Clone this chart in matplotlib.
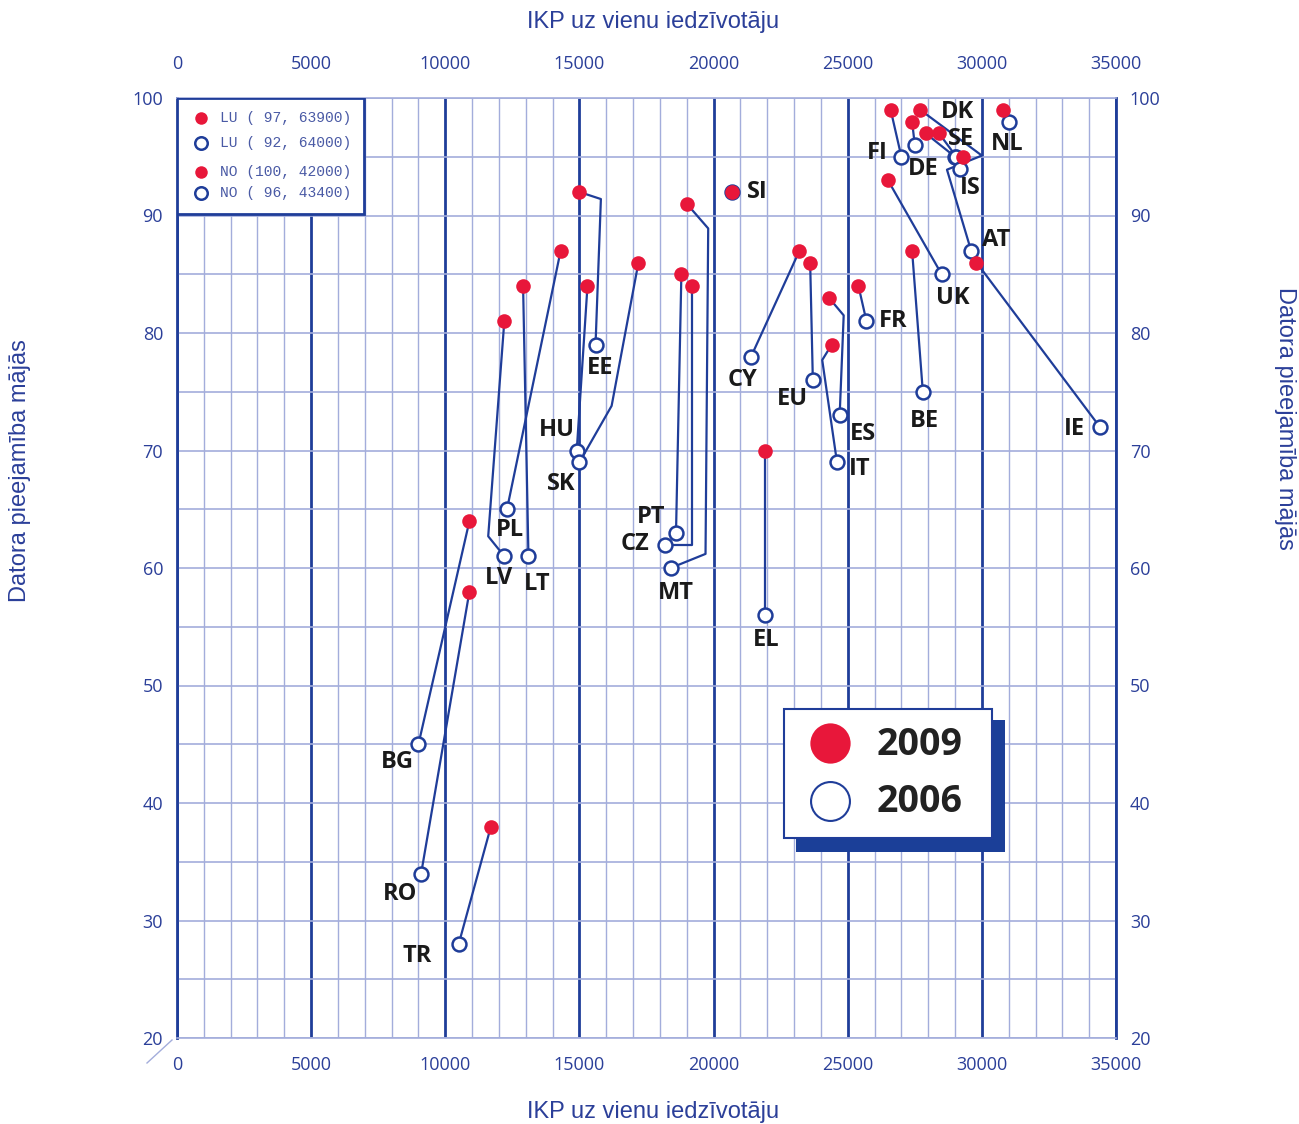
import matplotlib
matplotlib.use("Agg")
import matplotlib.pyplot as plt
from matplotlib.patches import Rectangle
from matplotlib.lines import Line2D


# country codes and values (GDP per capita, % homes with a computer)
codes = ["NL", "FI", "DE", "DK", "SE", "IS", "AT", "UK", "IE", "BE", "FR",
         "SI", "CY", "EU", "ES", "IT", "EL", "MT", "PT", "CZ", "EE", "HU",
         "SK", "PL", "LT", "LV", "BG", "RO", "TR"]
gdp_2009 = [30800, 26600, 27400, 27900, 28400, 29300, 27700, 26500, 29800, 27400, 25400,
            20700, 23200, 23600, 24300, 24400, 21900, 19000, 18800, 19200, 15000, 15300,
            17200, 14300, 12900, 12200, 10900, 10900, 11700]
pc_2009 = [99, 99, 98, 97, 97, 95, 99, 93, 86, 87, 84,
           92, 87, 86, 83, 79, 70, 91, 85, 84, 92, 84,
           86, 87, 84, 81, 64, 58, 38]
gdp_2006 = [31000, 27000, 27500, 29000, 29050, 29200, 29600, 28500, 34400, 27800, 25700,
            20700, 21400, 23700, 24700, 24600, 21900, 18400, 18600, 18200, 15600, 14900,
            15000, 12300, 13100, 12200, 9000, 9100, 10500]
pc_2006 = [98, 95, 96, 95, 95, 94, 87, 85, 72, 75, 81,
           92, 78, 76, 73, 69, 56, 60, 63, 62, 79, 70,
           69, 65, 61, 61, 45, 34, 28]

# elbows of the connector lines (data units)
bends = {
    "AT": [(30000, 95.1), (28700, 93.9)],
    "MT": [(19800, 88.9), (19700, 61.2)],
    "CZ": [(19200, 62)],
    "SK": [(16200, 73.8)],
    "EE": [(15800, 91.4)],
    "LV": [(11600, 62.7)],
    "ES": [(24850, 81.5)],
    "IT": [(24050, 77.7)],
}

# off-chart values listed in the top-left box
inset_codes = ["LU", "LU", "NO", "NO"]
inset_pc = [97, 92, 100, 96]
inset_gdp = [63900, 64000, 42000, 43400]
inset_filled = [True, False, True, False]

# label offsets from the 2006 marker, points
label_offsets = {
    "NL": (-1, -16), "FI": (-17, 3), "DE": (6, -17), "DK": (2, 32),
    "SE": (3, 13), "IS": (7, -14), "AT": (18, 8), "UK": (8, -17),
    "FR": (19, 0), "BE": (1, -21), "IE": (-18, -1.5), "SI": (18, 0),
    "CY": (-6.5, -17), "EU": (-15, -14), "ES": (16.5, -13.5), "IT": (16.5, -5),
    "EL": (1.5, -18), "PT": (-18, 11), "CZ": (-22, 0), "MT": (3.5, -18),
    "EE": (3, -17), "HU": (-14, 15), "SK": (-13, -16), "PL": (2, -15),
    "LV": (-4, -16), "LT": (6, -20), "BG": (-15, -13), "RO": (-15, -15),
    "TR": (-30, -9),
}

BLUE = "#1f3d99"
LIGHT = "#a3addb"
RED = "#e8173a"
TXT_BLUE = "#2b3f99"

W, H = 1299, 1124
fig = plt.figure(figsize=(W / 100, H / 100), dpi=100)
ax = fig.add_axes([177 / W, 1 - 1038 / H, (1116 - 177) / W, (1038 - 98) / H])

ax.set_xlim(0, 35000)
ax.set_ylim(20, 100)
ax.set_xticks(range(0, 35001, 5000))
ax.set_xticks(range(0, 35001, 1000), minor=True)
ax.set_yticks(range(20, 101, 10))
ax.set_yticks(range(20, 101, 5), minor=True)
ax.set_axisbelow(True)
ax.grid(axis="x", which="major", color=BLUE, lw=2)
ax.grid(axis="x", which="minor", color=LIGHT, lw=1)
ax.grid(axis="y", which="both", color=LIGHT, lw=1.2)

for side in ["left", "right"]:
    ax.spines[side].set_color(BLUE)
    ax.spines[side].set_linewidth(2)
for side in ["top", "bottom"]:
    ax.spines[side].set_color(LIGHT)
    ax.spines[side].set_linewidth(1.2)

ax.tick_params(which="both", length=0, colors=TXT_BLUE, labelsize=13)
ax.tick_params(axis="x", pad=13)
ax.tick_params(axis="y", pad=10)
for lab in ax.get_xticklabels() + ax.get_yticklabels():
    lab.set_family("Open Sans")

top = ax.secondary_xaxis("top")
top.set_xticks(range(0, 35001, 5000))
top.tick_params(length=0, pad=18, colors=TXT_BLUE, labelsize=13)
top.spines["top"].set_visible(False)
right = ax.secondary_yaxis("right")
right.set_yticks(range(20, 101, 10))
right.tick_params(length=0, pad=10, colors=TXT_BLUE, labelsize=13)
right.spines["right"].set_visible(False)
for lab in top.get_xticklabels() + right.get_yticklabels():
    lab.set_family("Open Sans")

# connectors
for i, c in enumerate(codes):
    pts = [(gdp_2009[i], pc_2009[i])] + bends.get(c, []) + [(gdp_2006[i], pc_2006[i])]
    ax.plot([p[0] for p in pts], [p[1] for p in pts], color=BLUE, lw=1.6, zorder=3)

ax.plot(gdp_2006, pc_2006, "o", ls="none", ms=10, mfc="white", mec=BLUE, mew=1.8, zorder=4)
ax.plot(gdp_2009, pc_2009, "o", ls="none", ms=10.5, color=RED, mec="none", zorder=5)

for i, c in enumerate(codes):
    ax.annotate(c, (gdp_2006[i], pc_2006[i]), xytext=label_offsets[c],
                textcoords="offset points", ha="center", va="center",
                fontsize=17, fontweight="bold", color="#1a1a1a",
                family="Open Sans", zorder=6)

# top-left box with off-chart countries
ax.add_patch(Rectangle((0, 90.13), 6970, 9.87, facecolor="white",
                       edgecolor=BLUE, lw=2, zorder=6))
row_y = [98.3, 96.2, 93.7, 91.9]
for k in range(len(inset_codes)):
    if inset_filled[k]:
        ax.plot(900, row_y[k], "o", ms=9, color=RED, mec="none", zorder=7)
    else:
        ax.plot(900, row_y[k], "o", ms=9, mfc="white", mec=BLUE, mew=1.8, zorder=7)
    ax.text(1600, row_y[k], f"{inset_codes[k]} ({inset_pc[k]:3d}, {inset_gdp[k]})",
            ha="left", va="center", fontsize=10.5, family="Liberation Mono",
            color="#4a5aa5", zorder=7)

# bottom-right legend with shadow
fig.add_artist(Rectangle((796 / W, 1 - 852 / H), 209 / W, 132 / H,
                         transform=fig.transFigure, facecolor="#1b3f98",
                         edgecolor="none", zorder=8))
fig.add_artist(Rectangle((784 / W, 1 - 838 / H), 208 / W, 129 / H,
                         transform=fig.transFigure, facecolor="white",
                         edgecolor=BLUE, lw=1.5, zorder=9))
fig.add_artist(Line2D([830 / W], [1 - 743 / H], transform=fig.transFigure,
                      marker="o", ms=29, color=RED, mec="none", zorder=10))
fig.add_artist(Line2D([830 / W], [1 - 801 / H], transform=fig.transFigure,
                      marker="o", ms=28, mfc="white", mec=BLUE, mew=1.5, zorder=10))
fig.text(877 / W, 1 - 745 / H, "2009", ha="left", va="center", fontsize=27,
         fontweight="bold", family="Open Sans", color="#222222", zorder=10)
fig.text(877 / W, 1 - 802 / H, "2006", ha="left", va="center", fontsize=27,
         fontweight="bold", family="Open Sans", color="#222222", zorder=10)

# axis titles
title_kw = dict(fontsize=17, color=TXT_BLUE, family="Liberation Sans")
fig.text(653 / W, 1 - 22 / H, "IKP uz vienu iedzīvotāju", ha="center", va="center", **title_kw)
fig.text(653 / W, 1 - 1112 / H, "IKP uz vienu iedzīvotāju", ha="center", va="center", **title_kw)
fig.text(20 / W, 1 - 471 / H, "Datora pieejamība mājās", ha="center", va="center",
         rotation=90, **title_kw)
fig.text(1285 / W, 1 - 418 / H, "Datora pieejamība mājās", ha="center", va="center",
         rotation=270, **title_kw)

fig.add_artist(Line2D([147 / W, 172 / W], [1 - 1063 / H, 1 - 1040 / H],
                      transform=fig.transFigure, color=LIGHT, lw=1))

fig.savefig("out.png", dpi=100)
